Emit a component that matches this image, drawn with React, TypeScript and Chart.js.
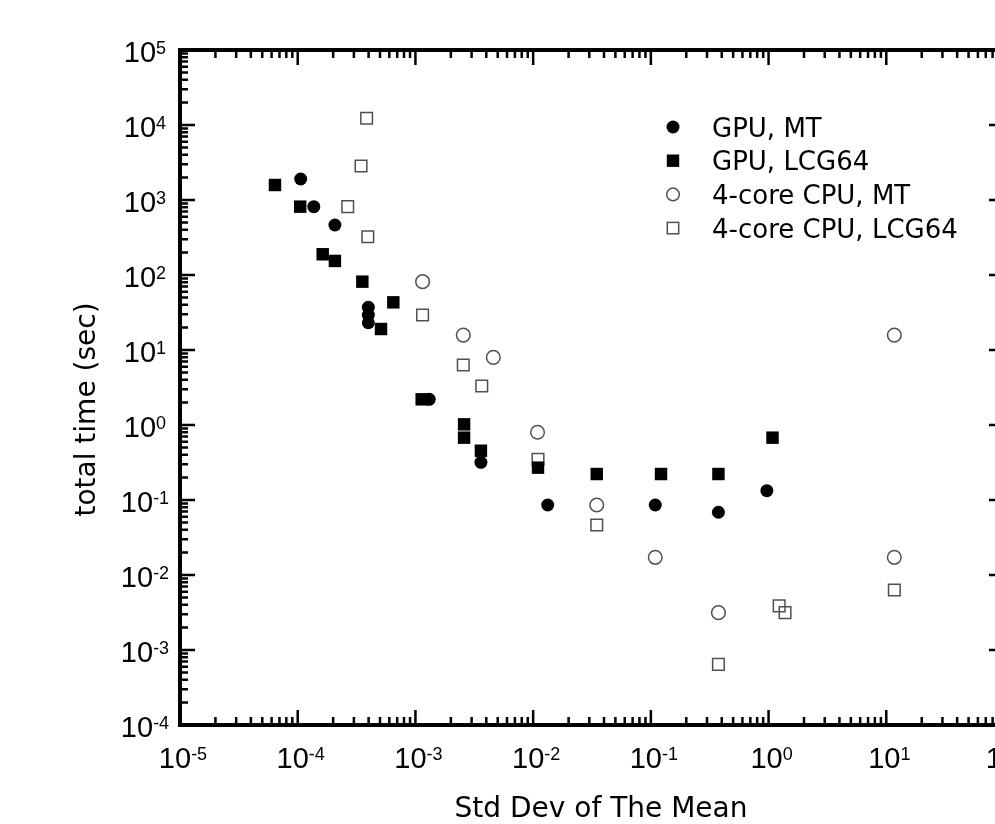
import React, { useEffect, useRef } from 'react';
import { Chart, registerables } from 'chart.js';

Chart.register(...registerables);

// ---- axis ranges & tick labels ----
const X_MIN = 1e-5;
const X_MAX = 1e2;
const Y_MIN = 1e-4;
const Y_MAX = 1e5;
const xTickExponents = [-5, -4, -3, -2, -1, 0, 1, 2];
const yTickExponents = [-4, -3, -2, -1, 0, 1, 2, 3, 4, 5];
const minorMultipliers = [2, 3, 4, 5, 6, 7, 8, 9];

const xTitle = 'Std Dev of The Mean';
const yTitle = 'total time (sec)';
const seriesNames = ['GPU, MT', 'GPU, LCG64', '4-core CPU, MT', '4-core CPU, LCG64'];

// ---- series values ----
const gpuMtX = [1.06e-4, 1.37e-4, 2.07e-4, 3.98e-4, 3.98e-4, 3.98e-4, 1.31e-3, 3.6e-3, 1.33e-2, 0.109, 0.375, 0.967];
const gpuMtY = [1905, 815, 464, 37.1, 29.3, 23.1, 2.2, 0.318, 0.0857, 0.0857, 0.0686, 0.133];

const gpuLcgX = [6.41e-5, 1.05e-4, 1.63e-4, 2.07e-4, 3.54e-4, 6.49e-4, 5.1e-4, 1.13e-3, 2.59e-3, 2.59e-3, 3.6e-3, 1.1e-2, 0.0347, 0.122, 0.375, 1.08];
const gpuLcgY = [1585, 815, 189, 154, 81.5, 43.2, 19.05, 2.2, 1.02, 0.678, 0.454, 0.27, 0.222, 0.222, 0.222, 0.678];

const cpuMtX = [1.15e-3, 2.55e-3, 4.59e-3, 1.09e-2, 0.0347, 0.109, 0.375, 11.7, 11.7];
const cpuMtY = [81.5, 15.8, 7.98, 0.8, 0.0857, 0.0172, 3.15e-3, 15.8, 0.0172];

const cpuLcgX = [3.85e-4, 3.45e-4, 2.66e-4, 3.94e-4, 1.15e-3, 2.55e-3, 3.66e-3, 1.1e-2, 0.0347, 0.375, 1.23, 1.38, 11.7];
const cpuLcgY = [1.23e4, 2840, 815, 324, 29.3, 6.31, 3.31, 0.349, 0.0464, 6.44e-4, 3.87e-3, 3.15e-3, 6.31e-3];

const CANVAS_W = 1030;
const CANVAS_H = 824;

const NUM_FONT = '"Liberation Sans", Arial, sans-serif';
const TEXT_FONT = '"DejaVu Sans", sans-serif';
const OPEN_COLOR = '#505050';

function zip(xs: number[], ys: number[]) {
  return xs.map((x, i) => ({ x, y: ys[i] }));
}

function drawPow(ctx: CanvasRenderingContext2D, exp: number, cx: number, baseline: number) {
  const expStr = String(exp);
  ctx.font = `29px ${NUM_FONT}`;
  const w1 = ctx.measureText('10').width;
  ctx.font = `18px ${NUM_FONT}`;
  const w2 = ctx.measureText(expStr).width;
  const total = w1 + w2;
  const x0 = cx - total / 2;
  ctx.textAlign = 'left';
  ctx.textBaseline = 'alphabetic';
  ctx.font = `29px ${NUM_FONT}`;
  ctx.fillText('10', x0, baseline);
  ctx.font = `18px ${NUM_FONT}`;
  ctx.fillText(expStr, x0 + w1, baseline - 8);
}

function drawMarker(ctx: CanvasRenderingContext2D, kind: number, x: number, y: number) {
  ctx.save();
  if (kind === 0) {
    ctx.fillStyle = '#000';
    ctx.beginPath();
    ctx.arc(x, y, 6.5, 0, Math.PI * 2);
    ctx.fill();
  } else if (kind === 1) {
    ctx.fillStyle = '#000';
    ctx.fillRect(x - 6.2, y - 6.2, 12.4, 12.4);
  } else if (kind === 2) {
    ctx.strokeStyle = OPEN_COLOR;
    ctx.lineWidth = 1.5;
    ctx.beginPath();
    ctx.arc(x, y, 6.3, 0, Math.PI * 2);
    ctx.stroke();
  } else {
    ctx.strokeStyle = OPEN_COLOR;
    ctx.lineWidth = 1.5;
    ctx.strokeRect(x - 5.7, y - 5.7, 11.4, 11.4);
  }
  ctx.restore();
}

const framePlugin = {
  id: 'frameAndLabels',
  afterDatasetsDraw(chart: any) {
    const { ctx, chartArea: a, scales } = chart;
    const xs = scales.x;
    const ys = scales.y;
    ctx.save();
    ctx.strokeStyle = '#000';
    ctx.fillStyle = '#000';

    // tick marks (inward, all four sides)
    ctx.lineWidth = 2.5;
    ctx.lineCap = 'butt';
    const xTicks: { v: number; major: boolean }[] = [];
    xTickExponents.forEach((e, i) => {
      xTicks.push({ v: Math.pow(10, e), major: true });
      if (i < xTickExponents.length - 1) minorMultipliers.forEach((m) => xTicks.push({ v: m * Math.pow(10, e), major: false }));
    });
    const yTicks: { v: number; major: boolean }[] = [];
    yTickExponents.forEach((e, i) => {
      yTicks.push({ v: Math.pow(10, e), major: true });
      if (i < yTickExponents.length - 1) minorMultipliers.forEach((m) => yTicks.push({ v: m * Math.pow(10, e), major: false }));
    });
    ctx.beginPath();
    xTicks.forEach((t) => {
      const px = xs.getPixelForValue(t.v);
      const len = t.major ? 15 : 8;
      ctx.moveTo(px, a.bottom);
      ctx.lineTo(px, a.bottom - len);
      ctx.moveTo(px, a.top);
      ctx.lineTo(px, a.top + len);
    });
    yTicks.forEach((t) => {
      const py = ys.getPixelForValue(t.v);
      const len = t.major ? 15 : 8;
      ctx.moveTo(a.left, py);
      ctx.lineTo(a.left + len, py);
      ctx.moveTo(a.right, py);
      ctx.lineTo(a.right - len, py);
    });
    ctx.stroke();

    // frame
    ctx.lineWidth = 4;
    ctx.strokeRect(a.left, a.top, a.right - a.left, a.bottom - a.top);

    // tick labels
    xTickExponents.forEach((e) => {
      const px = xs.getPixelForValue(Math.pow(10, e));
      drawPow(ctx, e, px + 3, a.bottom + 43);
    });
    yTickExponents.forEach((e) => {
      const py = ys.getPixelForValue(Math.pow(10, e));
      drawPow(ctx, e, a.left - 35, py + 12);
    });

    // axis titles
    ctx.font = `28px ${TEXT_FONT}`;
    ctx.textAlign = 'center';
    ctx.textBaseline = 'alphabetic';
    ctx.fillText(xTitle, (a.left + a.right) / 2 + 9, a.bottom + 92);
    ctx.save();
    ctx.translate(a.left - 85, (a.top + a.bottom) / 2 + 22);
    ctx.rotate(-Math.PI / 2);
    ctx.fillText(yTitle, 0, 0);
    ctx.restore();

    // legend
    ctx.font = `26px ${TEXT_FONT}`;
    ctx.textAlign = 'left';
    seriesNames.forEach((name, i) => {
      const cy = a.top + 77 + i * 33.7;
      drawMarker(ctx, i, 673, cy);
      ctx.fillStyle = '#000';
      ctx.fillText(name, 712, cy + 9.5);
    });

    ctx.restore();
  },
};

export default function App() {
  const ref = useRef<HTMLCanvasElement | null>(null);

  useEffect(() => {
    if (!ref.current) return;
    const chart = new Chart(ref.current, {
      type: 'scatter',
      data: {
        datasets: [
          {
            label: seriesNames[0],
            data: zip(gpuMtX, gpuMtY),
            pointStyle: 'circle',
            pointRadius: 6.5,
            backgroundColor: '#000',
            borderColor: '#000',
            borderWidth: 0,
          },
          {
            label: seriesNames[1],
            data: zip(gpuLcgX, gpuLcgY),
            pointStyle: 'rect',
            pointRadius: 8.8,
            backgroundColor: '#000',
            borderColor: '#000',
            borderWidth: 0,
          },
          {
            label: seriesNames[2],
            data: zip(cpuMtX, cpuMtY),
            pointStyle: 'circle',
            pointRadius: 6.8,
            backgroundColor: 'rgba(0,0,0,0)',
            borderColor: OPEN_COLOR,
            borderWidth: 1.5,
          },
          {
            label: seriesNames[3],
            data: zip(cpuLcgX, cpuLcgY),
            pointStyle: 'rect',
            pointRadius: 8.2,
            backgroundColor: 'rgba(0,0,0,0)',
            borderColor: OPEN_COLOR,
            borderWidth: 1.5,
          },
        ],
      },
      options: {
        animation: false,
        responsive: false,
        maintainAspectRatio: false,
        devicePixelRatio: 1,
        events: [],
        layout: { padding: { left: 180, right: CANVAS_W - 1004, top: 50, bottom: CANVAS_H - 725 } },
        plugins: { legend: { display: false }, tooltip: { enabled: false }, title: { display: false } },
        scales: {
          x: {
            type: 'logarithmic',
            min: X_MIN,
            max: X_MAX,
            display: true,
            border: { display: false },
            grid: { display: false, drawTicks: false },
            ticks: { display: false },
            title: { display: false },
          },
          y: {
            type: 'logarithmic',
            min: Y_MIN,
            max: Y_MAX,
            display: true,
            border: { display: false },
            grid: { display: false, drawTicks: false },
            ticks: { display: false },
            title: { display: false },
          },
        },
      },
      plugins: [framePlugin],
    });
    return () => chart.destroy();
  }, []);

  return (
    <div
      style={{
        position: 'fixed',
        left: 0,
        top: 0,
        width: 995,
        height: 824,
        overflow: 'hidden',
        background: '#fff',
      }}
    >
      <canvas ref={ref} width={CANVAS_W} height={CANVAS_H} style={{ display: 'block' }} />
    </div>
  );
}
